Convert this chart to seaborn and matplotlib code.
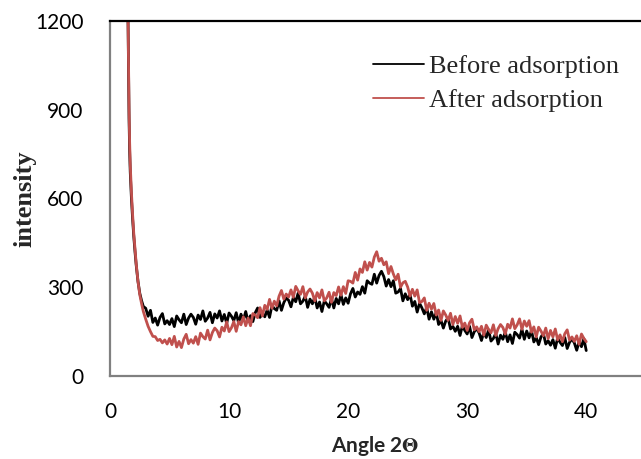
import numpy as np
import pandas as pd
import matplotlib
matplotlib.use("Agg")
import matplotlib.pyplot as plt
import seaborn as sns
from matplotlib.lines import Line2D

# ---------------- data ----------------
head_angle = [1.50, 1.55, 1.60, 1.65, 1.70, 1.80, 1.90, 2.00, 2.10, 2.20, 2.35, 2.50, 2.65, 2.80]
body_angle = list(np.round(np.arange(3.0, 40.0001, 0.2), 2))
angle = head_angle + body_angle

before_head = [1260, 1050, 870, 760, 690, 600, 530, 470, 420, 375, 320, 280, 255, 235]
before_body = [
    229, 202, 222, 181, 196, 172, 198, 211, 176, 187,
    174, 194, 167, 203, 190, 180, 209, 174, 196, 209,
    198, 175, 206, 191, 220, 185, 196, 215, 180, 210,
    196, 220, 186, 208, 178, 213, 202, 187, 214, 179,
    209, 189, 218, 184, 204, 184, 214, 230, 198, 212,
    200, 223, 198, 238, 228, 222, 254, 222, 248, 264,
    256, 234, 266, 251, 280, 244, 253, 270, 232, 260,
    244, 266, 230, 250, 218, 254, 244, 232, 262, 230,
    262, 244, 275, 242, 264, 246, 278, 296, 267, 284,
    276, 302, 280, 322, 314, 310, 344, 314, 340, 354,
    336, 304, 326, 302, 322, 280, 284, 296, 254, 278,
    258, 276, 236, 252, 216, 246, 230, 210, 232, 192,
    217, 192, 215, 174, 188, 162, 186, 196, 159, 168,
    151, 168, 137, 170, 154, 142, 168, 130, 150, 160,
    146, 120, 148, 130, 156, 118, 127, 144, 108, 138,
    124, 149, 116, 139, 110, 148, 140, 128, 158, 124,
    152, 129, 154, 115, 130, 106, 132, 144, 108, 119,
    104, 123, 94, 129, 114, 103, 130, 93, 114, 125,
    112, 87, 116, 99, 126, 86,
]

after_head = [1260, 1080, 900, 790, 715, 620, 545, 480, 430, 380, 320, 275, 245, 218]
after_body = [
    192, 168, 150, 134, 133, 120, 124, 112, 122, 108,
    127, 106, 134, 98, 117, 96, 125, 141, 109, 123,
    111, 133, 107, 145, 133, 125, 155, 122, 147, 162,
    153, 132, 165, 152, 183, 150, 163, 184, 151, 184,
    173, 200, 170, 196, 170, 211, 206, 197, 231, 203,
    239, 225, 259, 229, 253, 237, 270, 289, 260, 277,
    267, 291, 266, 303, 288, 276, 302, 264, 284, 294,
    280, 254, 282, 264, 291, 254, 264, 283, 249, 282,
    272, 301, 273, 302, 279, 322, 320, 314, 350, 324,
    362, 350, 386, 358, 384, 368, 402, 420, 388, 398,
    376, 386, 346, 370, 345, 325, 344, 300, 315, 320,
    301, 270, 293, 270, 291, 248, 252, 264, 222, 246,
    226, 245, 206, 223, 188, 220, 206, 188, 212, 174,
    201, 178, 203, 164, 179, 154, 180, 192, 156, 166,
    150, 168, 138, 172, 157, 146, 173, 137, 160, 174,
    164, 142, 175, 162, 193, 160, 173, 193, 158, 186,
    168, 187, 148, 166, 132, 165, 152, 136, 162, 126,
    154, 132, 159, 122, 139, 116, 143, 156, 121, 132,
    117, 136, 107, 142, 127, 116,
]

before = before_head + before_body
after = after_head + after_body

series_names = ["Before adsorption", "After adsorption"]
series_colors = ["#000000", "#C0504D"]
x_ticks = [0, 10, 20, 30, 40]
y_ticks = [0, 300, 600, 900, 1200]

df = pd.DataFrame({
    "angle": angle * 2,
    "intensity": before + after,
    "series": [series_names[0]] * len(before) + [series_names[1]] * len(after),
})

# ---------------- plot ----------------
sns.set_theme(style="white")
plt.rcParams["font.family"] = ["Lato", "DejaVu Sans"]
plt.rcParams["mathtext.fontset"] = "stix"

fig = plt.figure(figsize=(6.41, 4.59), dpi=100)
ax = fig.add_axes([110 / 641, 1 - 376 / 459, 1 - 110 / 641, (376 - 21) / 459])

sns.lineplot(data=df, x="angle", y="intensity", hue="series",
             hue_order=series_names, palette=series_colors,
             linewidth=2.0, ax=ax, sort=False, estimator=None, legend=False)

ax.set_xlim(0, 44.6)
ax.set_ylim(0, 1200)
ax.set_xticks(x_ticks)
ax.set_yticks(y_ticks)
ax.tick_params(axis="both", length=0, labelsize=15, colors="black")
ax.tick_params(axis="x", pad=19)
ax.tick_params(axis="y", pad=19)

for s in ["left", "bottom"]:
    ax.spines[s].set_color("#808080")
    ax.spines[s].set_linewidth(1.6)
ax.spines["top"].set_color("black")
ax.spines["top"].set_linewidth(1.6)
ax.spines["right"].set_visible(False)

ax.set_xlabel(r"Angle 2$\mathbf{\Theta}$", fontsize=15, fontweight="bold", labelpad=8)
ax.set_ylabel("intensity", fontsize=19, fontweight="bold",
              family=["Liberation Serif"], labelpad=-1)

handles = [Line2D([], [], color=c, linewidth=1.3) for c in series_colors]
leg = fig.legend(handles, series_names, loc="upper left",
                 bbox_to_anchor=(362 / 641, 1 - 44 / 459),
                 bbox_transform=fig.transFigure, frameon=False,
                 prop={"family": "Liberation Serif", "size": 19},
                 handlelength=1.95, handletextpad=0.2, labelspacing=0.4,
                 borderaxespad=0)

fig.savefig("out.png", dpi=100)
